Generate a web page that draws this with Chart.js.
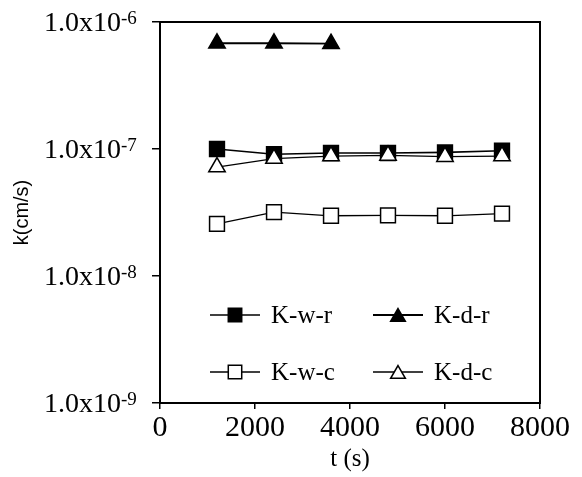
<!DOCTYPE html>
<html>
<head>
<meta charset="utf-8">
<script src="https://cdn.jsdelivr.net/npm/chart.js@4.4.0/dist/chart.umd.min.js"></script>
<style>
  html, body { margin: 0; padding: 0; background: #fff; }
  #wrap { width: 582px; height: 477px; }
</style>
</head>
<body>
<div id="wrap"><canvas id="kChart" width="582" height="477"></canvas></div>
<script>
// time of each reading (s)
const times = [1200, 2400, 3600, 4800, 6000, 7200];
// permeability k (cm/s) per series
const kwr = [1.0e-7, 9.1e-8, 9.3e-8, 9.3e-8, 9.4e-8, 9.7e-8];
const kdr = [6.8e-7, 6.8e-7, 6.75e-7];
const kwc = [2.57e-8, 3.18e-8, 2.98e-8, 3.0e-8, 2.98e-8, 3.1e-8];
const kdc = [7.2e-8, 8.4e-8, 8.8e-8, 8.9e-8, 8.7e-8, 8.8e-8];
const seriesNames = ['K-w-r', 'K-d-r', 'K-w-c', 'K-d-c'];
// axis ticks
const yTicks = [1e-9, 1e-8, 1e-7, 1e-6];
const yTickExp = ['-9', '-8', '-7', '-6'];
const xTicks = [0, 2000, 4000, 6000, 8000];

function toPoints(vals) {
    return vals.map(function (v, i) { return { x: times[i], y: v }; });
}

const SERIF = '"Liberation Serif", "Times New Roman", serif';

// frame around plot + y labels with superscripts + inside legend
const decorPlugin = {
    id: 'decor',
    afterDraw(chart) {
        const ctx = chart.ctx;
        const a = chart.chartArea;
        const ys = chart.scales.y;
        ctx.save();
        ctx.strokeStyle = '#000';
        ctx.lineWidth = 2;
        ctx.strokeRect(a.left, a.top, a.right - a.left, a.bottom - a.top);

        // y tick labels 1.0x10^n
        ctx.fillStyle = '#000';
        yTicks.forEach(function (v, i) {
            const py = ys.getPixelForValue(v);
            ctx.font = '28px ' + SERIF;
            ctx.textAlign = 'right';
            ctx.textBaseline = 'alphabetic';
            ctx.fillText('1.0x10', 121, py + 9);
            ctx.font = '19px ' + SERIF;
            ctx.textAlign = 'left';
            ctx.fillText(yTickExp[i], 121, py + 2);
        });

        // legend, 2 columns x 2 rows
        const cols = [210, 373];
        const rows = [315, 372];
        chart.data.datasets.forEach(function (ds, i) {
            const x0 = cols[i % 2];
            const y0 = rows[Math.floor(i / 2)];
            ctx.strokeStyle = '#000';
            ctx.lineWidth = ds.borderWidth;
            ctx.beginPath();
            ctx.moveTo(x0, y0);
            ctx.lineTo(x0 + 50, y0);
            ctx.stroke();
            ctx.fillStyle = ds.pointBackgroundColor;
            ctx.strokeStyle = '#000';
            ctx.lineWidth = ds.pointBorderWidth;
            Chart.helpers.drawPoint(ctx, {
                pointStyle: ds.pointStyle,
                radius: ds.pointStyle === 'rect' ? 9.5 : 8.5,
                borderWidth: ds.pointBorderWidth,
                rotation: 0
            }, x0 + 25, y0 + (ds.pointStyle === 'triangle' ? 2 : 0));
            ctx.fillStyle = '#000';
            ctx.font = '25px ' + SERIF;
            ctx.textAlign = 'left';
            ctx.textBaseline = 'middle';
            ctx.fillText(ds.label, x0 + 61, y0 + 1);
        });
        ctx.restore();
    }
};

function makeSet(label, vals, style, filled, width, order) {
    return {
        label: label,
        data: toPoints(vals),
        showLine: true,
        borderColor: '#000',
        borderWidth: width,
        backgroundColor: filled ? '#000' : '#fff',
        pointStyle: style,
        pointRadius: style === 'rect' ? 10.5 : 9.5,
        pointBorderWidth: 1.5,
        pointBackgroundColor: filled ? '#000' : '#fff',
        pointBorderColor: '#000',
        fill: false,
        tension: 0,
        order: order
    };
}

new Chart(document.getElementById('kChart'), {
    type: 'scatter',
    data: {
        datasets: [
            makeSet(seriesNames[0], kwr, 'rect', true, 1.6, 3),
            makeSet(seriesNames[1], kdr, 'triangle', true, 1.8, 2),
            makeSet(seriesNames[2], kwc, 'rect', false, 1.3, 1),
            makeSet(seriesNames[3], kdc, 'triangle', false, 1.3, 0)
        ]
    },
    options: {
        responsive: false,
        animation: false,
        layout: { padding: { top: 22, right: 42, left: 0, bottom: 0 } },
        plugins: {
            legend: { display: false },
            tooltip: { enabled: false }
        },
        scales: {
            x: {
                type: 'linear',
                min: 0,
                max: 8000,
                afterBuildTicks: function (scale) {
                    scale.ticks = xTicks.map(function (v) { return { value: v }; });
                },
                afterFit: function (scale) { scale.height = 74; },
                ticks: {
                    color: '#000',
                    font: { family: SERIF, size: 30 },
                    padding: 1,
                    maxRotation: 0,
                    callback: function (v) { return String(v); }
                },
                grid: { drawOnChartArea: false, drawTicks: true, tickLength: 6, color: '#000', lineWidth: 1.5 },
                border: { display: true, color: '#000', width: 2 },
                title: {
                    display: true,
                    text: 't (s)',
                    color: '#000',
                    font: { family: SERIF, size: 25 },
                    padding: { top: 0, bottom: 3 }
                }
            },
            y: {
                type: 'logarithmic',
                min: 1e-9,
                max: 1e-6,
                afterBuildTicks: function (scale) {
                    scale.ticks = yTicks.map(function (v) { return { value: v }; });
                },
                afterFit: function (scale) { scale.width = 160; },
                ticks: { display: false },
                grid: { drawOnChartArea: false, drawTicks: true, tickLength: 8, color: '#000', lineWidth: 1.5 },
                border: { display: true, color: '#000', width: 2 },
                title: {
                    display: true,
                    text: 'k(cm/s)',
                    color: '#000',
                    font: { family: '"Liberation Sans", Arial, sans-serif', size: 20 },
                    padding: { top: 10, bottom: 0 }
                }
            }
        }
    },
    plugins: [decorPlugin]
});
</script>
</body>
</html>
